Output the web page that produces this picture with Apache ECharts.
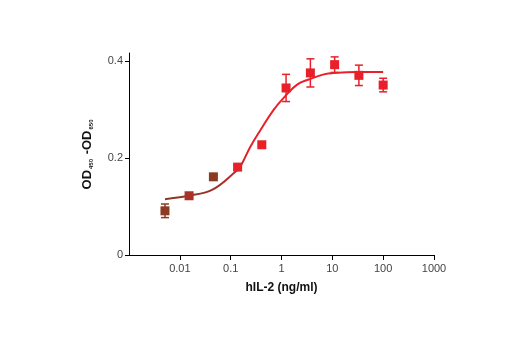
<!DOCTYPE html>
<html><head><meta charset="utf-8">
<script src="https://cdn.jsdelivr.net/npm/echarts@6/dist/echarts.min.js"></script>
<style>html,body{margin:0;padding:0;background:#fff}#c{width:520px;height:350px}</style>
</head><body><div id="c"></div>
<script>
// Data
const doses = [0.0051, 0.0152, 0.0457, 0.137, 0.41, 1.23, 3.7, 11.1, 33.3, 100];
const means = [0.091, 0.122, 0.161, 0.181, 0.227, 0.344, 0.375, 0.392, 0.370, 0.350];
const errs  = [0.014, 0.004, 0.003, 0.004, 0.003, 0.028, 0.029, 0.016, 0.021, 0.014];
const pointColors = ['#8b3a24', '#a8322a', '#8b3a24', '#e8202a', '#e8202a', '#e8202a', '#e8202a', '#e8202a', '#e8202a', '#e8202a'];
const fitX = [0.0051, 0.0144, 0.0428, 0.129, 0.155, 0.244, 0.389, 0.70, 1.16, 2.03, 3.55, 6.8, 10.7, 31.4, 100];
const fitY = [0.115, 0.122, 0.134, 0.173, 0.182, 0.223, 0.258, 0.299, 0.326, 0.351, 0.362, 0.372, 0.375, 0.377, 0.377];
const xTicks = [0.01, 0.1, 1, 10, 100, 1000];
const xTickLabels = ['0.01', '0.1', '1', '10', '100', '1000'];
const yTicks = [0, 0.2, 0.4];
const yTickLabels = ['0', '0.2', '0.4'];

const chart = echarts.init(document.getElementById('c'), null, {renderer: 'canvas'});
const FONT = 'Liberation Sans, Arial, sans-serif';
const NARROW = 'Liberation Sans Narrow, Liberation Sans, Arial, sans-serif';

function labelFor(v, ticks, labels) {
  for (let i = 0; i < ticks.length; i++) {
    if (Math.abs(Math.log10(Math.max(v,1e-12)) - Math.log10(Math.max(ticks[i],1e-12))) < 1e-6 || Math.abs(v - ticks[i]) < 1e-9) return labels[i];
  }
  return '';
}

chart.setOption({
  animation: false,
  grid: {left: 129, right: 86, top: 53, bottom: 95, containLabel: false},
  xAxis: {
    type: 'log', logBase: 10, min: 0.001, max: 1000,
    name: 'hIL-2 (ng/ml)', nameLocation: 'middle', nameGap: 27,
    nameTextStyle: {fontFamily: NARROW, fontWeight: 'bold', fontSize: 12, color: '#111'},
    axisLine: {lineStyle: {color: '#000', width: 1}},
    axisTick: {show: true, length: 5, lineStyle: {color: '#000'}, customValues: xTicks},
    axisLabel: {fontFamily: FONT, fontSize: 11, color: '#444', margin: 8, customValues: xTicks,
      formatter: v => labelFor(v, xTicks, xTickLabels)},
    splitLine: {show: false}, minorTick: {show: false}
  },
  yAxis: {
    type: 'value', min: 0, max: 0.416,
    name: 'OD{sub|450} -OD{sub|650}', nameLocation: 'middle', nameGap: 35, nameRotate: 90,
    nameTextStyle: {fontFamily: NARROW, fontWeight: 'bold', fontSize: 13, color: '#111',
      rich: {sub: {fontFamily: NARROW, fontWeight: 'bold', fontSize: 6, color: '#111', verticalAlign: 'bottom', padding: [8, 1, 0, 1]}}},
    axisLine: {show: true, lineStyle: {color: '#000', width: 1}},
    axisTick: {show: true, length: 4, lineStyle: {color: '#000'}, customValues: yTicks},
    axisLabel: {fontFamily: FONT, fontSize: 11, color: '#444', margin: 6, customValues: yTicks,
      formatter: v => labelFor(v, yTicks, yTickLabels)},
    splitLine: {show: false}
  },
  series: [
    {
      type: 'line', data: fitX.map((x, i) => [x, fitY[i]]), smooth: 0.4, symbol: 'none', z: 2,
      lineStyle: {width: 2, opacity: 1, color: {type: 'linear', x: 0, y: 0, x2: 1, y2: 0, colorStops: [
        {offset: 0, color: '#8b3a24'}, {offset: 0.25, color: '#9a3326'}, {offset: 0.4, color: '#e8202a'}, {offset: 1, color: '#e8202a'}]}}
    },
    {
      type: 'custom', z: 3,
      data: doses.map((x, i) => [x, means[i], errs[i], i]),
      renderItem: (params, api) => {
        const x = api.value(0), m = api.value(1), e = api.value(2), idx = api.value(3);
        const top = api.coord([x, m + e]), bot = api.coord([x, m - e]);
        const c = pointColors[idx];
        const hw = 4;
        const st = {stroke: c, lineWidth: 1.5};
        return {type: 'group', children: [
          {type: 'line', shape: {x1: top[0], y1: top[1], x2: bot[0], y2: bot[1]}, style: st},
          {type: 'line', shape: {x1: top[0]-hw, y1: top[1], x2: top[0]+hw, y2: top[1]}, style: st},
          {type: 'line', shape: {x1: bot[0]-hw, y1: bot[1], x2: bot[0]+hw, y2: bot[1]}, style: st}
        ]};
      }
    },
    {
      type: 'scatter', symbol: 'rect', symbolSize: 9, z: 4,
      data: doses.map((x, i) => ({value: [x, means[i]], itemStyle: {color: pointColors[i], opacity: 1}}))
    }
  ]
});
</script></body></html>
